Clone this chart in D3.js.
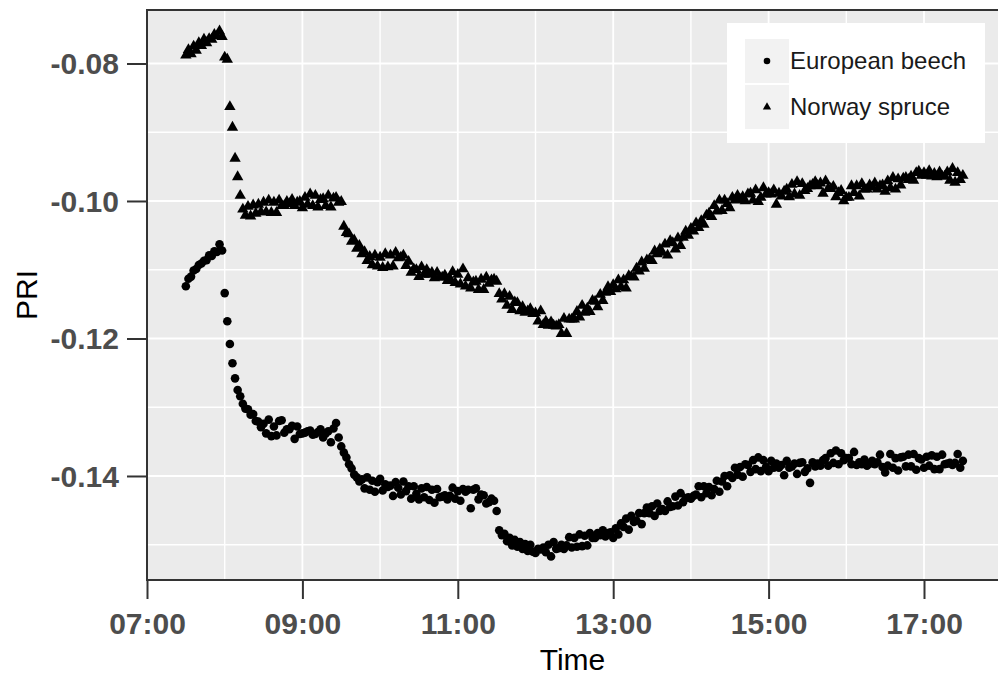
<!DOCTYPE html>
<html>
<head>
<meta charset="utf-8">
<script src="https://cdn.jsdelivr.net/npm/d3@7"></script>
<style>
  body { margin: 0; background: #fff; }
  svg { display: block; font-family: "Liberation Sans", Arial, sans-serif; }
</style>
</head>
<body>
<div id="chart"></div>
<script>
// series names (legend order)
var speciesNames = ["European beech", "Norway spruce"];

// both series are sampled every 2 minutes starting at 07:30
var sampleStart = "07:30";
var sampleStepMinutes = 2;

// PRI, European beech (circles)
var beechPRI = [
  // 07:30 - 07:58
  -0.1124,-0.1113,-0.1110,-0.1101,-0.1099,-0.1093,-0.1091,-0.1087,-0.1086,-0.1079,-0.1080,-0.1073,-0.1074,-0.1063,-0.1072,
  // 08:00 - 08:28
  -0.1134,-0.1175,-0.1208,-0.1236,-0.1258,-0.1275,-0.1284,-0.1295,-0.1302,-0.1303,-0.1311,-0.1310,-0.1320,-0.1321,-0.1329,
  // 08:30 - 08:58
  -0.1324,-0.1338,-0.1318,-0.1342,-0.1328,-0.1341,-0.1320,-0.1319,-0.1337,-0.1332,-0.1332,-0.1327,-0.1346,-0.1328,-0.1339,
  // 09:00 - 09:28
  -0.1338,-0.1337,-0.1335,-0.1334,-0.1340,-0.1339,-0.1336,-0.1332,-0.1344,-0.1338,-0.1335,-0.1351,-0.1331,-0.1323,-0.1344,
  // 09:30 - 09:58
  -0.1357,-0.1366,-0.1373,-0.1383,-0.1389,-0.1398,-0.1402,-0.1408,-0.1405,-0.1418,-0.1402,-0.1420,-0.1407,-0.1423,-0.1409,
  // 10:00 - 10:28
  -0.1404,-0.1421,-0.1412,-0.1416,-0.1414,-0.1429,-0.1409,-0.1417,-0.1427,-0.1408,-0.1422,-0.1415,-0.1433,-0.1415,-0.1426,
  // 10:30 - 10:58
  -0.1434,-0.1418,-0.1431,-0.1416,-0.1435,-0.1420,-0.1439,-0.1419,-0.1431,-0.1430,-0.1428,-0.1434,-0.1429,-0.1417,-0.1433,
  // 11:00 - 11:28
  -0.1422,-0.1436,-0.1419,-0.1423,-0.1420,-0.1447,-0.1420,-0.1418,-0.1434,-0.1427,-0.1428,-0.1440,-0.1438,-0.1433,-0.1436,
  // 11:30 - 11:58
  -0.1451,-0.1479,-0.1486,-0.1484,-0.1495,-0.1490,-0.1501,-0.1493,-0.1503,-0.1496,-0.1506,-0.1499,-0.1509,-0.1500,-0.1510,
  // 12:00 - 12:28
  -0.1512,-0.1506,-0.1507,-0.1504,-0.1511,-0.1500,-0.1517,-0.1496,-0.1506,-0.1505,-0.1500,-0.1506,-0.1501,-0.1489,-0.1504,
  // 12:30 - 12:58
  -0.1490,-0.1503,-0.1485,-0.1502,-0.1487,-0.1501,-0.1483,-0.1490,-0.1490,-0.1483,-0.1486,-0.1479,-0.1488,-0.1483,-0.1482,
  // 13:00 - 13:28
  -0.1490,-0.1476,-0.1485,-0.1469,-0.1474,-0.1462,-0.1478,-0.1458,-0.1467,-0.1465,-0.1454,-0.1470,-0.1454,-0.1446,-0.1454,
  // 13:30 - 13:58
  -0.1444,-0.1458,-0.1440,-0.1451,-0.1448,-0.1451,-0.1437,-0.1445,-0.1444,-0.1430,-0.1443,-0.1425,-0.1438,-0.1432,-0.1431,
  // 14:00 - 14:28
  -0.1433,-0.1429,-0.1427,-0.1415,-0.1431,-0.1415,-0.1425,-0.1416,-0.1428,-0.1419,-0.1407,-0.1423,-0.1408,-0.1400,-0.1415,
  // 14:30 - 14:58
  -0.1399,-0.1403,-0.1388,-0.1398,-0.1387,-0.1401,-0.1383,-0.1384,-0.1394,-0.1377,-0.1390,-0.1373,-0.1393,-0.1377,-0.1387,
  // 15:00 - 15:28
  -0.1393,-0.1378,-0.1388,-0.1382,-0.1388,-0.1384,-0.1399,-0.1378,-0.1388,-0.1386,-0.1382,-0.1397,-0.1381,-0.1380,-0.1394,
  // 15:30 - 15:58
  -0.1389,-0.1410,-0.1380,-0.1386,-0.1382,-0.1385,-0.1377,-0.1374,-0.1385,-0.1367,-0.1381,-0.1363,-0.1383,-0.1367,-0.1377,
  // 16:00 - 16:28
  -0.1374,-0.1374,-0.1383,-0.1365,-0.1384,-0.1380,-0.1383,-0.1376,-0.1385,-0.1382,-0.1378,-0.1383,-0.1380,-0.1369,-0.1387,
  // 16:30 - 16:58
  -0.1395,-0.1385,-0.1368,-0.1388,-0.1374,-0.1392,-0.1373,-0.1372,-0.1386,-0.1369,-0.1386,-0.1368,-0.1391,-0.1374,-0.1376,
  // 17:00 - 17:30
  -0.1388,-0.1372,-0.1385,-0.1370,-0.1390,-0.1372,-0.1390,-0.1369,-0.1383,-0.1382,-0.1381,-0.1384,-0.1381,-0.1368,-0.1388,
  -0.1378
];

// PRI, Norway spruce (triangles)
var sprucePRI = [
  // 07:30 - 07:58
  -0.0788,-0.0780,-0.0786,-0.0775,-0.0781,-0.0770,-0.0774,-0.0765,-0.0770,-0.0764,-0.0765,-0.0758,-0.0760,-0.0753,-0.0761,
  // 08:00 - 08:28
  -0.0791,-0.0794,-0.0863,-0.0893,-0.0938,-0.0965,-0.0992,-0.1012,-0.1021,-0.1008,-0.1022,-0.1006,-0.1018,-0.1005,-0.1016,
  // 08:30 - 08:58
  -0.1002,-0.1016,-0.0999,-0.1017,-0.1002,-0.1017,-0.0999,-0.1007,-0.1007,-0.1001,-0.1004,-0.0998,-0.1007,-0.1002,-0.1001,
  // 09:00 - 09:28
  -0.1010,-0.0995,-0.1005,-0.0990,-0.1007,-0.0992,-0.1009,-0.0998,-0.0997,-0.1007,-0.0992,-0.1009,-0.0996,-0.0995,-0.1002,
  // 09:30 - 09:58
  -0.1001,-0.1037,-0.1046,-0.1048,-0.1059,-0.1057,-0.1069,-0.1065,-0.1077,-0.1074,-0.1087,-0.1081,-0.1093,-0.1079,-0.1095,
  // 10:00 - 10:28
  -0.1082,-0.1097,-0.1077,-0.1096,-0.1079,-0.1095,-0.1075,-0.1083,-0.1082,-0.1079,-0.1094,-0.1088,-0.1104,-0.1099,-0.1100,
  // 10:30 - 10:58
  -0.1110,-0.1096,-0.1107,-0.1100,-0.1107,-0.1104,-0.1112,-0.1104,-0.1111,-0.1111,-0.1108,-0.1116,-0.1113,-0.1103,-0.1119,
  // 11:00 - 11:28
  -0.1107,-0.1121,-0.1099,-0.1124,-0.1112,-0.1127,-0.1118,-0.1117,-0.1129,-0.1114,-0.1129,-0.1111,-0.1120,-0.1115,-0.1114,
  // 11:30 - 11:58
  -0.1117,-0.1135,-0.1143,-0.1135,-0.1152,-0.1139,-0.1158,-0.1147,-0.1148,-0.1160,-0.1154,-0.1162,-0.1160,-0.1157,-0.1164,
  // 12:00 - 12:28
  -0.1163,-0.1175,-0.1160,-0.1180,-0.1175,-0.1181,-0.1176,-0.1181,-0.1182,-0.1180,-0.1193,-0.1171,-0.1193,-0.1172,-0.1172,
  // 12:30 - 12:58
  -0.1172,-0.1161,-0.1169,-0.1152,-0.1162,-0.1156,-0.1161,-0.1145,-0.1146,-0.1154,-0.1136,-0.1145,-0.1133,-0.1125,-0.1132,
  // 13:00 - 13:28
  -0.1122,-0.1128,-0.1115,-0.1125,-0.1115,-0.1127,-0.1109,-0.1110,-0.1111,-0.1098,-0.1102,-0.1089,-0.1098,-0.1086,-0.1085,
  // 13:30 - 13:58
  -0.1087,-0.1073,-0.1077,-0.1070,-0.1075,-0.1063,-0.1079,-0.1058,-0.1061,-0.1070,-0.1054,-0.1065,-0.1053,-0.1044,-0.1050,
  // 14:00 - 14:28
  -0.1040,-0.1044,-0.1032,-0.1039,-0.1029,-0.1034,-0.1021,-0.1018,-0.1023,-0.1007,-0.1015,-0.0999,-0.1014,-0.0999,-0.1004,
  // 14:30 - 14:58
  -0.1010,-0.0995,-0.0999,-0.0992,-0.0998,-0.0994,-0.1000,-0.0990,-0.0989,-0.0999,-0.0984,-0.1001,-0.0995,-0.0981,-0.0990,
  // 15:00 - 15:28
  -0.0988,-0.0990,-0.0984,-0.1005,-0.0989,-0.0993,-0.0986,-0.0983,-0.0994,-0.0976,-0.0990,-0.0972,-0.0992,-0.0975,-0.0985,
  // 15:30 - 15:58
  -0.0982,-0.0978,-0.0976,-0.0972,-0.0978,-0.0974,-0.0989,-0.0971,-0.0982,-0.0982,-0.0979,-0.0994,-0.0988,-0.0985,-0.1000,
  // 16:00 - 16:28
  -0.0995,-0.0995,-0.0978,-0.0988,-0.0978,-0.0993,-0.0975,-0.0983,-0.0983,-0.0977,-0.0980,-0.0974,-0.0983,-0.0978,-0.0977,
  // 16:30 - 16:58
  -0.0986,-0.0971,-0.0981,-0.0966,-0.0983,-0.0968,-0.0977,-0.0967,-0.0966,-0.0969,-0.0964,-0.0970,-0.0959,-0.0957,-0.0963,
  // 17:00 - 17:30
  -0.0959,-0.0963,-0.0956,-0.0964,-0.0960,-0.0965,-0.0958,-0.0964,-0.0964,-0.0958,-0.0970,-0.0953,-0.0973,-0.0959,-0.0969,
  -0.0963
];

// axis ticks
var xMajorTicks = ["07:00", "09:00", "11:00", "13:00", "15:00", "17:00"];
var xMinorTicks = ["08:00", "10:00", "12:00", "14:00", "16:00", "18:00"];
var yMajorTicks = [-0.14, -0.12, -0.10, -0.08];
var yMinorTicks = [-0.15, -0.13, -0.11, -0.09];

var W = 998, H = 680;
var panel = {left: 147, top: 10, right: 998, bottom: 580};
var hourPx = 77.7;

var parseHM = d3.timeParse("%H:%M");
var t0 = parseHM(sampleStart);
function sampleTime(i){ return d3.timeMinute.offset(t0, i * sampleStepMinutes); }

var x = d3.scaleTime()
    .domain([parseHM("07:00"), parseHM("18:00")])
    .range([panel.left, panel.left + 11 * hourPx]);
var y = d3.scaleLinear()
    .domain([-0.15513, -0.07222])
    .range([panel.bottom, panel.top]);

var svg = d3.select("#chart").append("svg")
    .attr("width", W)
    .attr("height", H);

svg.append("defs").append("clipPath").attr("id", "panel-clip")
  .append("rect")
    .attr("x", panel.left).attr("y", panel.top)
    .attr("width", panel.right - panel.left).attr("height", panel.bottom - panel.top);

// panel background
svg.append("rect")
    .attr("x", panel.left).attr("y", panel.top)
    .attr("width", panel.right - panel.left)
    .attr("height", panel.bottom - panel.top)
    .attr("fill", "#ebebeb");

var grid = svg.append("g").attr("clip-path", "url(#panel-clip)")
    .attr("stroke", "#fff");

grid.selectAll(".ymin").data(yMinorTicks).enter().append("line")
    .attr("x1", panel.left).attr("x2", panel.right)
    .attr("y1", function(d){ return y(d); }).attr("y2", function(d){ return y(d); })
    .attr("stroke-width", 1.4);
grid.selectAll(".xmin").data(xMinorTicks).enter().append("line")
    .attr("y1", panel.top).attr("y2", panel.bottom)
    .attr("x1", function(d){ return x(parseHM(d)); }).attr("x2", function(d){ return x(parseHM(d)); })
    .attr("stroke-width", 1.4);
grid.selectAll(".ymaj").data(yMajorTicks).enter().append("line")
    .attr("x1", panel.left).attr("x2", panel.right)
    .attr("y1", function(d){ return y(d); }).attr("y2", function(d){ return y(d); })
    .attr("stroke-width", 1.8);
grid.selectAll(".xmaj").data(xMajorTicks).enter().append("line")
    .attr("y1", panel.top).attr("y2", panel.bottom)
    .attr("x1", function(d){ return x(parseHM(d)); }).attr("x2", function(d){ return x(parseHM(d)); })
    .attr("stroke-width", 1.8);

// points
var pts = svg.append("g").attr("clip-path", "url(#panel-clip)");
var circleSym = d3.symbol().type(d3.symbolCircle).size(58);
var triSym = d3.symbol().type(d3.symbolTriangle).size(56);

pts.selectAll(".beech").data(beechPRI).enter().append("path")
    .attr("class", "beech")
    .attr("d", circleSym)
    .attr("transform", function(d, i){ return "translate(" + x(sampleTime(i)) + "," + y(d) + ")"; })
    .attr("fill", "#000");

pts.selectAll(".spruce").data(sprucePRI).enter().append("path")
    .attr("class", "spruce")
    .attr("d", triSym)
    .attr("transform", function(d, i){ return "translate(" + x(sampleTime(i)) + "," + y(d) + ")"; })
    .attr("fill", "#000");

// panel border (top, left, bottom)
svg.append("path")
    .attr("d", "M" + panel.right + "," + panel.top + "H" + panel.left + "V" + panel.bottom + "H" + panel.right)
    .attr("fill", "none")
    .attr("stroke", "#333")
    .attr("stroke-width", 2);

// y axis
var yAxis = d3.axisLeft(y).tickValues(yMajorTicks).tickSize(20).tickPadding(8)
    .tickFormat(d3.format(".2f"));
var gy = svg.append("g").attr("transform", "translate(" + panel.left + ",0)").call(yAxis);
gy.select(".domain").remove();
gy.selectAll(".tick line").attr("stroke", "#333").attr("stroke-width", 2);
gy.selectAll(".tick text")
    .attr("fill", "#4d4d4d")
    .style("font-size", "30px")
    .style("font-weight", "bold")
    .attr("dy", "0.34em")
    .text(function(d){ return d3.format(".2f")(d).replace("−", "-"); });

// x axis
var xAxis = d3.axisBottom(x).tickValues(xMajorTicks.map(parseHM)).tickSize(19).tickPadding(0)
    .tickFormat(d3.timeFormat("%H:%M"));
var gx = svg.append("g").attr("transform", "translate(0," + panel.bottom + ")").call(xAxis);
gx.select(".domain").remove();
gx.selectAll(".tick line").attr("stroke", "#333").attr("stroke-width", 2);
gx.selectAll(".tick text")
    .attr("fill", "#4d4d4d")
    .style("font-size", "30px")
    .style("font-weight", "bold")
    .attr("y", 54)
    .attr("dy", null);

// axis titles
svg.append("text")
    .attr("x", (panel.left + panel.right) / 2)
    .attr("y", 670)
    .attr("text-anchor", "middle")
    .style("font-size", "30px")
    .attr("fill", "#000")
    .text("Time");

svg.append("text")
    .attr("transform", "translate(37," + ((panel.top + panel.bottom) / 2) + ") rotate(-90)")
    .attr("text-anchor", "middle")
    .style("font-size", "30px")
    .attr("fill", "#000")
    .text("PRI");

// legend
var legend = svg.append("g");
legend.append("rect")
    .attr("x", 727).attr("y", 23)
    .attr("width", 258).attr("height", 120)
    .attr("fill", "#fff");

var legendSyms = [d3.symbol().type(d3.symbolCircle).size(34), d3.symbol().type(d3.symbolTriangle).size(30)];
speciesNames.forEach(function(name, i){
  var ky = 39 + i * 46;
  legend.append("rect")
      .attr("x", 745).attr("y", ky)
      .attr("width", 44).attr("height", 44)
      .attr("fill", "#f2f2f2");
  legend.append("path")
      .attr("d", legendSyms[i])
      .attr("transform", "translate(767," + (ky + 22) + ")")
      .attr("fill", "#000");
  legend.append("text")
      .attr("x", 790)
      .attr("y", ky + 22)
      .attr("dy", "0.35em")
      .style("font-size", "24px")
      .attr("fill", "#1a1a1a")
      .text(name);
});
</script>
</body>
</html>
